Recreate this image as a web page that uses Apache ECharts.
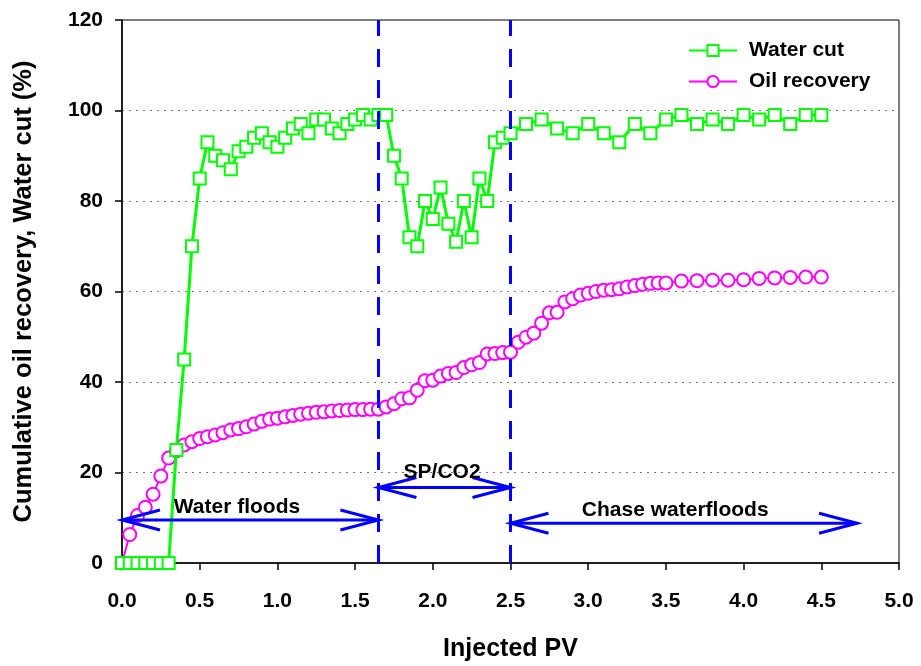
<!DOCTYPE html>
<html>
<head>
<meta charset="utf-8">
<script src="https://cdn.jsdelivr.net/npm/echarts@6/dist/echarts.min.js"></script>
<style>
  html, body { margin: 0; padding: 0; background: #fff; }
  #chart { width: 921px; height: 666px; }
</style>
</head>
<body>
<div id="chart"></div>
<script>
// water cut (%) vs injected PV
var wcX = [0, 0.05, 0.1, 0.15, 0.2, 0.25, 0.3, 0.35, 0.4, 0.45, 0.5, 0.55, 0.6, 0.65, 0.7, 0.75, 0.8, 0.85, 0.9, 0.95,
  1.0, 1.05, 1.1, 1.15, 1.2, 1.25, 1.3, 1.35, 1.4, 1.45, 1.5, 1.55, 1.6, 1.65, 1.7, 1.75, 1.8, 1.85, 1.9, 1.95,
  2.0, 2.05, 2.1, 2.15, 2.2, 2.25, 2.3, 2.35, 2.4, 2.45, 2.5, 2.6, 2.7, 2.8, 2.9, 3.0, 3.1, 3.2, 3.3, 3.4,
  3.5, 3.6, 3.7, 3.8, 3.9, 4.0, 4.1, 4.2, 4.3, 4.4, 4.5];
var wcY = [0, 0, 0, 0, 0, 0, 0, 25, 45, 70, 85, 93, 90, 89, 87, 91, 92, 94, 95, 93,
  92, 94, 96, 97, 95, 98, 98, 96, 95, 97, 98, 99, 98, 99, 99, 90, 85, 72, 70, 80,
  76, 83, 75, 71, 80, 72, 85, 80, 93, 94, 95, 97, 98, 96, 95, 97, 95, 93, 97, 95,
  98, 99, 97, 98, 97, 99, 98, 99, 97, 99, 99];

// cumulative oil recovery (%) vs injected PV
var orX = [0, 0.05, 0.1, 0.15, 0.2, 0.25, 0.3, 0.35, 0.4, 0.45, 0.5, 0.55, 0.6, 0.65, 0.7, 0.75, 0.8, 0.85, 0.9, 0.95,
  1.0, 1.05, 1.1, 1.15, 1.2, 1.25, 1.3, 1.35, 1.4, 1.45, 1.5, 1.55, 1.6, 1.65, 1.7, 1.75, 1.8, 1.85, 1.9, 1.95,
  2.0, 2.05, 2.1, 2.15, 2.2, 2.25, 2.3, 2.35, 2.4, 2.45, 2.5, 2.55, 2.6, 2.65, 2.7, 2.75, 2.8, 2.85, 2.9, 2.95,
  3.0, 3.05, 3.1, 3.15, 3.2, 3.25, 3.3, 3.35, 3.4, 3.45, 3.5, 3.6, 3.7, 3.8, 3.9, 4.0, 4.1, 4.2, 4.3, 4.4, 4.5];
var orY = [0, 6.3, 10.5, 12.3, 15.2, 19.2, 23.2, 24.8, 26.1, 26.8, 27.5, 27.9, 28.3, 28.8, 29.4, 29.7, 30.1, 30.7, 31.3, 31.8,
  32.0, 32.3, 32.6, 32.9, 33.1, 33.3, 33.4, 33.6, 33.7, 33.8, 33.9, 33.9, 34.0, 34.0, 34.5, 35.2, 36.3, 36.5, 38.2, 40.3,
  40.4, 41.3, 41.9, 42.1, 43.2, 43.8, 44.3, 46.2, 46.3, 46.5, 46.6, 48.8, 49.9, 50.8, 53.0, 55.3, 55.4, 57.7, 58.4, 59.2,
  59.6, 60.0, 60.3, 60.4, 60.6, 61.0, 61.3, 61.6, 61.8, 61.9, 61.9, 62.3, 62.4, 62.5, 62.5, 62.6, 62.9, 63.0, 63.1, 63.2, 63.2];

// stage boundaries (PV)
var stageLines = [1.65, 2.5];

// double arrows: from PV, to PV, at value
var arrowFrom = [0, 1.65, 2.5];
var arrowTo = [1.65, 2.5, 4.73];
var arrowY = [9.5, 16.7, 8.8];

// stage labels
var stageNames = ['Water floods', 'SP/CO2', 'Chase waterfloods'];
var stageNameX = [0.74, 2.06, 3.56];
var stageNameY = [12.4, 20.1, 11.7];

var FONT = "'Liberation Sans', Arial, sans-serif";

function pairs(xs, ys) {
  var out = [];
  for (var i = 0; i < xs.length; i++) out.push([xs[i], ys[i]]);
  return out;
}

var arrowData = [];
for (var i = 0; i < arrowFrom.length; i++) {
  arrowData.push([arrowFrom[i], arrowTo[i], arrowY[i], stageNameX[i], stageNameY[i]]);
}

function renderArrow(params, api) {
  var p1 = api.coord([api.value(0), api.value(2)]);
  var p2 = api.coord([api.value(1), api.value(2)]);
  var t = api.coord([api.value(3), api.value(4)]);
  var hl = 38, hw = 10;
  var st = { stroke: '#0000FF', lineWidth: 3, fill: null };
  return {
    type: 'group',
    children: [
      { type: 'line', shape: { x1: p1[0], y1: p1[1], x2: p2[0], y2: p2[1] }, style: st },
      { type: 'polyline', shape: { points: [[p1[0] + hl, p1[1] - hw], [p1[0], p1[1]], [p1[0] + hl, p1[1] + hw]] }, style: st },
      { type: 'polyline', shape: { points: [[p2[0] - hl, p2[1] - hw], [p2[0], p2[1]], [p2[0] - hl, p2[1] + hw]] }, style: st },
      {
        type: 'text', x: t[0], y: t[1],
        style: {
          text: stageNames[params.dataIndex], fill: '#000', align: 'center', verticalAlign: 'middle',
          font: 'bold 21px ' + FONT
        }
      }
    ]
  };
}

var chart = echarts.init(document.getElementById('chart'));
chart.setOption({
  animation: false,
  backgroundColor: '#fff',
  grid: {
    left: 122, right: 22, top: 20, bottom: 103,
    outerBoundsMode: 'none',
    show: true, borderColor: '#000', borderWidth: 1
  },
  legend: {
    data: ['Water cut', 'Oil recovery'],
    orient: 'vertical',
    left: 683, top: 35,
    itemWidth: 48, itemHeight: 14, itemGap: 10,
    textStyle: { fontFamily: FONT, fontWeight: 'bold', fontSize: 21, color: '#000', padding: [0, 0, 0, 7] }
  },
  xAxis: {
    type: 'value', min: 0, max: 5, interval: 0.5,
    name: 'Injected PV', nameLocation: 'middle', nameGap: 74,
    nameTextStyle: { fontFamily: FONT, fontWeight: 'bold', fontSize: 25, color: '#000' },
    axisLine: { lineStyle: { color: '#000', width: 1.5 } },
    axisTick: { length: 7, lineStyle: { color: '#000', width: 1.5 } },
    axisLabel: {
      margin: 28, color: '#000', fontFamily: FONT, fontWeight: 'bold', fontSize: 21,
      formatter: function (v) { return v.toFixed(1); }
    },
    splitLine: { show: false }
  },
  yAxis: {
    type: 'value', min: 0, max: 120, interval: 20,
    name: 'Cumulative oil recovery, Water cut (%)', nameLocation: 'middle', nameGap: 85, nameRotate: 90,
    nameTextStyle: { fontFamily: FONT, fontWeight: 'bold', fontSize: 25.5, color: '#000' },
    axisLine: { show: true, lineStyle: { color: '#000', width: 1.5 } },
    axisTick: { show: true, length: 7, lineStyle: { color: '#000', width: 1.5 } },
    axisLabel: { margin: 19, color: '#000', fontFamily: FONT, fontWeight: 'bold', fontSize: 21 },
    splitLine: { show: true, lineStyle: { color: '#777', type: [2, 5], width: 1 } }
  },
  series: [
    {
      name: 'Oil recovery', type: 'line', z: 3,
      data: pairs(orX, orY),
      symbol: 'circle', symbolSize: 13,
      color: '#FF00FF',
      lineStyle: { color: '#FF00FF', width: 2 },
      itemStyle: { color: '#fff', borderColor: '#FF00FF', borderWidth: 2 }
    },
    {
      name: 'Water cut', type: 'line', z: 4,
      data: pairs(wcX, wcY),
      symbol: 'rect', symbolSize: 12,
      color: '#00FF00',
      lineStyle: { color: '#00FF00', width: 3 },
      itemStyle: { color: '#fff', borderColor: '#00FF00', borderWidth: 2 },
      markLine: {
        silent: true, symbol: 'none', label: { show: false },
        lineStyle: { color: '#0000FF', width: 3, type: [18, 13] },
        data: stageLines.map(function (v) { return { xAxis: v }; })
      }
    },
    {
      name: 'stages', type: 'custom', z: 5,
      renderItem: renderArrow,
      data: arrowData,
      encode: { x: [0, 1, 3], y: [2, 4] },
      silent: true
    }
  ]
});
</script>
</body>
</html>
